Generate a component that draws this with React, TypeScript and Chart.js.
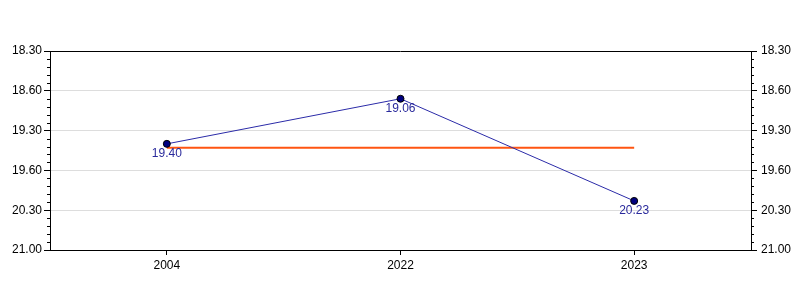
import React, { useEffect, useRef } from "react";
import { Chart, registerables } from "chart.js";

Chart.register(...registerables);

const categories = ["2004", "2022", "2023"];
// times in seconds (mm.ss displayed)
const timeValues = [1180, 1146, 1223];
const timeLabels = ["19.40", "19.06", "20.23"];
const averageValues = [1183, 1183, 1183];
const tickValues = [1110, 1140, 1170, 1200, 1230, 1260];
const tickLabels = ["18.30", "18.60", "19.30", "19.60", "20.30", "21.00"];
const axisMin = 1110;
const axisMax = 1260;
const majorStep = 30;
const minorStep = 6;

const FONT = "'Liberation Sans', Arial, sans-serif";

const labelFor = (v: number) => {
  const i = tickValues.indexOf(v);
  return i >= 0 ? tickLabels[i] : "";
};

const extrasPlugin = {
  id: "extras",
  afterDraw(chart: any) {
    const ctx = chart.ctx;
    const area = chart.chartArea;
    ctx.save();
    // top frame line
    ctx.strokeStyle = "#000";
    ctx.lineWidth = 1;
    ctx.beginPath();
    ctx.moveTo(area.left, Math.round(area.top) + 0.5);
    ctx.lineTo(area.right, Math.round(area.top) + 0.5);
    ctx.stroke();
    // minor ticks
    ["y", "y2"].forEach((id) => {
      const s = chart.scales[id];
      const isLeft = id === "y";
      const x0 = isLeft ? s.right : s.left;
      for (let v = axisMin; v <= axisMax; v += minorStep) {
        if ((v - axisMin) % majorStep === 0) continue;
        const py = Math.round(s.getPixelForValue(v)) + 0.5;
        ctx.beginPath();
        ctx.moveTo(x0, py);
        ctx.lineTo(isLeft ? x0 - 3 : x0 + 3, py);
        ctx.stroke();
      }
    });
    ctx.restore();
  },
  afterDatasetsDraw(chart: any) {
    const ctx = chart.ctx;
    const meta = chart.getDatasetMeta(0);
    ctx.save();
    ctx.font = `12px ${FONT}`;
    ctx.fillStyle = "#2a2a9c";
    ctx.textAlign = "center";
    ctx.textBaseline = "middle";
    meta.data.forEach((pt: any, i: number) => {
      ctx.fillText(timeLabels[i], pt.x, pt.y + 10);
    });
    ctx.restore();
  },
};

export default function App() {
  const ref = useRef<HTMLCanvasElement | null>(null);
  useEffect(() => {
    document.body.style.margin = "0";
    if (!ref.current) return;
    const yCommon = {
      type: "linear" as const,
      min: axisMin,
      max: axisMax,
      reverse: true,
      afterBuildTicks: (scale: any) => {
        scale.ticks = tickValues.map((v) => ({ value: v }));
      },
      ticks: {
        callback: (v: any) => labelFor(Number(v)),
        color: "#000",
        font: { family: FONT, size: 12 },
      },
      border: { display: true, color: "#000", width: 1 },
    };
    const chart = new Chart(ref.current, {
      type: "line",
      data: {
        labels: categories,
        datasets: [
          {
            data: timeValues,
            borderColor: "#2b2ba8",
            borderWidth: 1,
            pointBackgroundColor: "#000080",
            pointBorderColor: "#000",
            pointBorderWidth: 1,
            pointRadius: 3.5,
            yAxisID: "y",
          },
          {
            data: averageValues,
            borderColor: "#ff5511",
            borderWidth: 2,
            pointRadius: 0,
            yAxisID: "y",
          },
        ],
      },
      options: {
        animation: false,
        responsive: false,
        layout: { padding: { top: 51, left: 0, right: 0, bottom: 0 } },
        plugins: { legend: { display: false }, tooltip: { enabled: false } },
        scales: {
          x: {
            type: "category",
            offset: true,
            grid: {
              offset: false,
              drawOnChartArea: false,
              tickLength: 5,
              tickColor: "#000",
            },
            border: { display: true, color: "#000", width: 1 },
            ticks: { color: "#000", font: { family: FONT, size: 12 }, padding: 3 },
            afterFit: (s: any) => {
              s.height = 50;
            },
          },
          y: {
            ...yCommon,
            position: "left",
            grid: {
              color: (c: any) =>
                c.tick && (c.tick.value === axisMin || c.tick.value === axisMax)
                  ? "rgba(0,0,0,0)"
                  : "#dddddd",
              tickColor: "#000",
              tickLength: 6,
            },
            ticks: { ...yCommon.ticks, padding: 2 },
            afterFit: (s: any) => {
              s.width = 50;
            },
          },
          y2: {
            ...yCommon,
            position: "right",
            grid: { drawOnChartArea: false, tickColor: "#000", tickLength: 6 },
            ticks: { ...yCommon.ticks, padding: 4 },
            afterFit: (s: any) => {
              s.width = 49;
            },
          },
        },
      },
      plugins: [extrasPlugin],
    } as any);
    return () => chart.destroy();
  }, []);
  return (
    <div style={{ position: "absolute", left: 0, top: 0, width: 800, height: 300, background: "#fff" }}>
      <canvas ref={ref} width={800} height={300} style={{ display: "block" }} />
    </div>
  );
}
